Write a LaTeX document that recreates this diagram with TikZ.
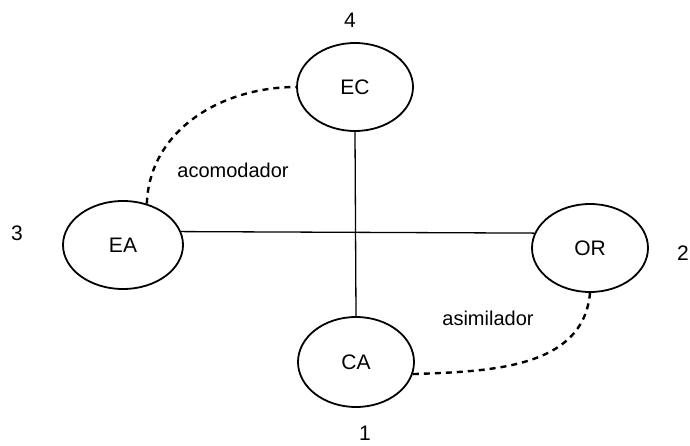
\documentclass[tikz,border=0pt]{standalone}
\usepackage{fontspec}
\setmainfont{Liberation Sans}
\usetikzlibrary{shapes.geometric}

\begin{document}
\begin{tikzpicture}[x=1pt,y=-1pt,
  estilo/.style={ellipse,draw,line width=1.8pt,minimum width=116pt,minimum height=88pt,inner sep=0pt,font=\fontsize{21}{25}\selectfont},
  num/.style={font=\fontsize{21}{25}\selectfont},
  etiq/.style={font=\fontsize{20}{24}\selectfont},
  eje/.style={line width=1.3pt},
  curva/.style={line width=2.4pt,dash pattern=on 6pt off 5pt}]
 \useasboundingbox (0,0) rectangle (690,446);
 \node[estilo] (ec) at (355,87) {EC};
 \node[estilo,minimum width=120pt] (ea) at (123,245) {EA};
 \node[estilo] (or) at (590,248) {OR};
 \node[estilo,minimum width=116pt,minimum height=90pt] (ca) at (356,362) {CA};
 \node[num] (n4) at (350,20) {4};
 \node[num] (n3) at (17,233) {3};
 \node[num] (n2) at (683,253) {2};
 \node[num] (n1) at (365,433) {1};
 \node[etiq] (acom) at (233,170) {acomodador};
 \node[etiq] (asim) at (488,318) {asimilador};
 \draw[eje] (ec.south) -- (ca.north);
 \draw[eje] (ea.13) -- (or.165);
 \draw[curva] (ea.60) to[out=88,in=180] (ec.west);
 \draw[curva] (ca.-12) to[out=2,in=-95] (or.south);
\end{tikzpicture}
\end{document}
